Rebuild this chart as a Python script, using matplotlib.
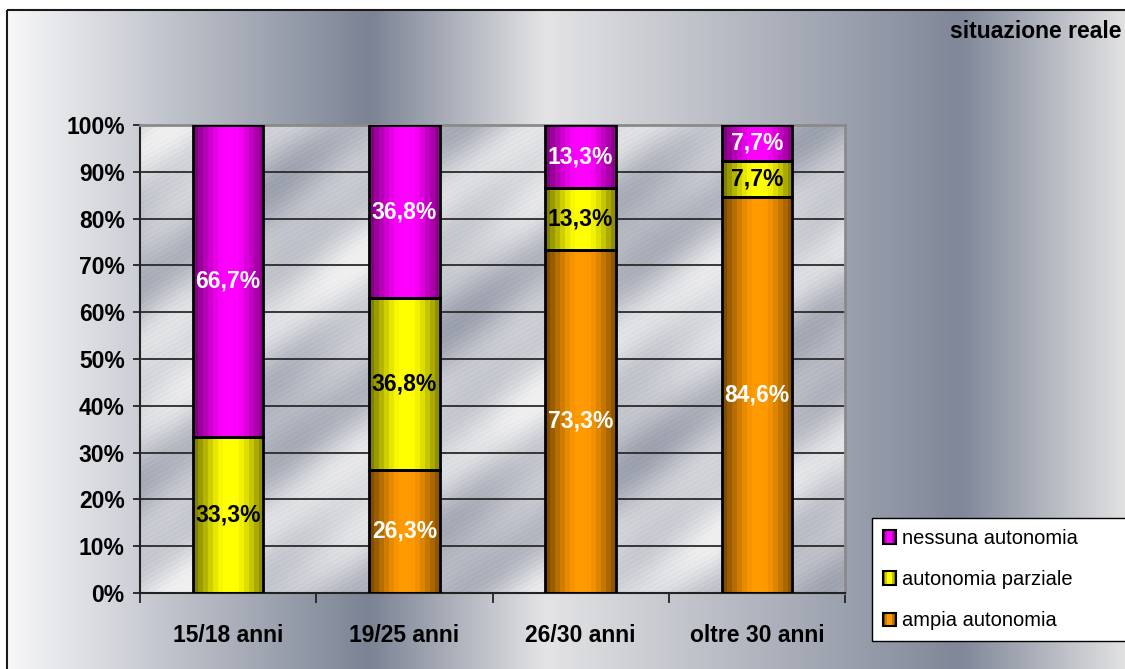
import numpy as np
import matplotlib
matplotlib.use("Agg")
import matplotlib.pyplot as plt
from matplotlib.patches import Rectangle
from matplotlib.legend_handler import HandlerBase
from matplotlib.colors import to_rgb

# ---- data -------------------------------------------------------------
categories = ["15/18 anni", "19/25 anni", "26/30 anni", "oltre 30 anni"]
ampia_autonomia = [0.0, 26.3, 73.3, 84.6]
autonomia_parziale = [33.3, 36.8, 13.3, 7.7]
nessuna_autonomia = [66.7, 36.8, 13.3, 7.7]
series_names = ["ampia autonomia", "autonomia parziale", "nessuna autonomia"]
series_colors = ["#ff9900", "#ffff00", "#ff00ff"]
value_text_colors = ["white", "black", "white"]
y_ticks = list(range(0, 101, 10))
chart_title = "situazione reale"

W, H = 1125, 669
plt.rcParams["font.family"] = ["Liberation Sans", "DejaVu Sans"]
fig = plt.figure(figsize=(W / 100, H / 100), dpi=100, facecolor="white")


def hex_rgb(c):
    return np.array(to_rgb(c))


# ---- metallic background of the chart area ---------------------------
bg = fig.add_axes([0, 0, 1, 1], zorder=-10)
stop_x = [7, 370, 545, 960, 1125]
stop_c = [hex_rgb(c) for c in ["#f8f8f9", "#7b8394", "#e4e4e6", "#7f8798", "#e2e2e3"]]
xs = np.arange(7, W + 1)
row = np.stack([np.interp(xs, stop_x, [c[i] for c in stop_c]) for i in range(3)], axis=-1)
bg.imshow(row[None, :, :], extent=(7, W + 1, H + 2, 10), aspect="auto",
          interpolation="bilinear")
bg.add_patch(Rectangle((7, 10), W + 20, H + 20, fill=False, ec="#1a1a1a", lw=1.5))
bg.set_xlim(0, W)
bg.set_ylim(H, 0)
bg.axis("off")

# ---- plot area ---------------------------------------------------------
ax = fig.add_axes([140 / W, 1 - 593 / H, 705 / W, 468 / H])
x = np.arange(len(categories))

th, tw = 470, 705
yy, xx = np.mgrid[0:th, 0:tw].astype(float)
u = 0.55 * xx + yy
v = (0.62 + 0.22 * np.sin(2 * np.pi * u / 230 + 0.8)
     + 0.12 * np.sin(2 * np.pi * u / 95 + xx / 60)
     + 0.08 * np.sin(2 * np.pi * xx / 180)
     + 0.03 * np.sin(2 * np.pi * u / 5))
v = np.clip(v, 0, 1)[..., None]
dark, light = hex_rgb("#878d9d"), hex_rgb("#efeff0")
ax.imshow(dark + (light - dark) * v, extent=(-0.5, 3.5, 0, 100), aspect="auto",
          zorder=0, interpolation="bilinear")

ax.set_axisbelow(True)
ax.yaxis.grid(True, color="#2a2a2a", lw=1.3)


def shade_profile(n=14):
    t = (np.arange(n) + 0.5) / n
    return 0.45 + 0.57 * np.sin(np.pi * (0.92 * t + 0.02)) ** 1.3


profile = shade_profile()
series_values = [ampia_autonomia, autonomia_parziale, nessuna_autonomia]
bottom = np.zeros(len(categories))
for vals, color, tcol, name in zip(series_values, series_colors,
                                   value_text_colors, series_names):
    vals = np.array(vals)
    bars = ax.bar(x, vals, 0.4, bottom=bottom, color=color, edgecolor="black",
                  lw=2, zorder=3, label=name)
    base = hex_rgb(color)
    grad = np.clip(profile[:, None] * base[None, :], 0, 1)[None, :, :]
    for bar, val, b, xi in zip(bars, vals, bottom, x):
        if val <= 0:
            continue
        bar.set_facecolor("none")
        im = ax.imshow(grad, extent=(bar.get_x(), bar.get_x() + bar.get_width(),
                                     b, b + val),
                       aspect="auto", interpolation="nearest", zorder=2.5)
        im.set_clip_path(bar)
        ax.text(xi, b + val / 2, f"{val:.1f}%".replace(".", ","), ha="center",
                va="center", fontsize=16.5, fontweight="bold", color=tcol, zorder=5)
    bottom = bottom + vals

ax.set_xlim(-0.5, 3.5)
ax.set_ylim(0, 100)
ax.set_yticks(y_ticks)
ax.set_yticklabels([f"{t}%" for t in y_ticks], fontsize=16.5, fontweight="bold")
ax.tick_params(axis="y", length=5, width=1.3, pad=6, color="#222222")
ax.set_xticks(x)
ax.set_xticklabels(categories, fontsize=16.5, fontweight="bold")
ax.tick_params(axis="x", which="major", length=0, pad=22)
ax.set_xticks(np.arange(-0.5, len(categories)), minor=True)
ax.tick_params(axis="x", which="minor", length=7, width=1.3, color="#222222")
for s in ("left", "bottom"):
    ax.spines[s].set_color("#222222")
    ax.spines[s].set_linewidth(1.5)
for s in ("top", "right"):
    ax.spines[s].set_color("#8a8a8a")
    ax.spines[s].set_linewidth(2)

fig.text(1121 / W, 1 - 32 / H, chart_title, ha="right", va="center",
         fontsize=16.5, fontweight="bold")


# ---- legend with shaded swatches ------------------------------------
class ShadedSwatch(HandlerBase):
    def create_artists(self, legend, orig_handle, xdescent, ydescent, width,
                       height, fontsize, trans):
        base = hex_rgb(orig_handle.get_facecolor())
        prof = [0.5, 0.8, 1.0, 1.0, 0.75, 0.55]
        n = len(prof)
        w = width / n
        arts = []
        for i, f in enumerate(prof):
            arts.append(Rectangle((-xdescent + i * w, -ydescent), w, height,
                                  fc=np.clip(base * f, 0, 1), ec="none",
                                  transform=trans))
        arts.append(Rectangle((-xdescent, -ydescent), width, height, fill=False,
                              ec="black", lw=1.5, transform=trans))
        return arts


proxies = [Rectangle((0, 0), 1, 1, fc=c) for c in series_colors]
order = [2, 1, 0]
leg = fig.legend([proxies[i] for i in order], [series_names[i] for i in order],
                 loc="upper left",
                 bbox_to_anchor=(872 / W, 1 - 641 / H, 280 / W, 123 / H),
                 mode="expand", fontsize=14.5, handlelength=0.65, handleheight=0.65,
                 handletextpad=0.3, labelspacing=1.1, borderpad=0.55,
                 borderaxespad=0, fancybox=False, framealpha=1,
                 edgecolor="black", facecolor="white",
                 handler_map={Rectangle: ShadedSwatch()})
leg.get_frame().set_linewidth(1)

fig.savefig("out.png", dpi=100, facecolor="white")
